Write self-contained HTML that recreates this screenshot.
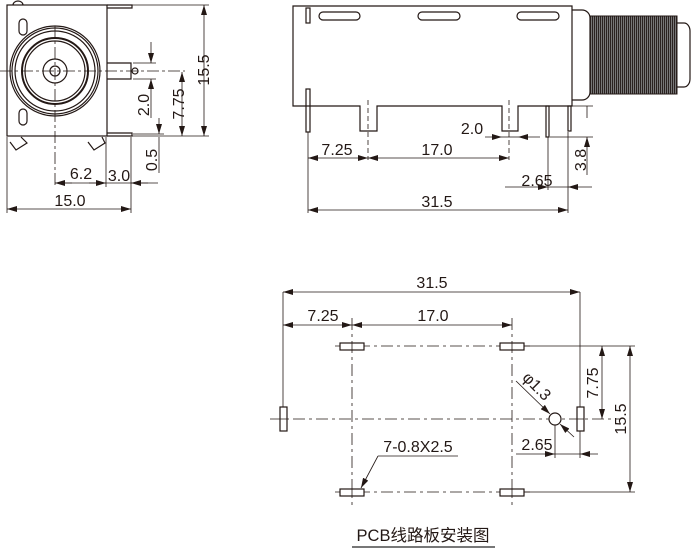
<!DOCTYPE html>
<html><head><meta charset="utf-8"><style>
html,body{margin:0;padding:0;background:#fff;}
svg{display:block;}
text{font-family:"Liberation Sans","Noto Sans CJK SC",sans-serif;font-size:16px;fill:#231815;}
</style></head><body>
<svg width="693" height="549" viewBox="0 0 693 549" xmlns="http://www.w3.org/2000/svg">
<defs>
<marker id="a" viewBox="0 0 10 6" refX="10" refY="3" markerWidth="10" markerHeight="6" orient="auto-start-reverse" markerUnits="userSpaceOnUse"><path d="M0,0L10,3L0,6z" fill="#231815"/></marker>
<pattern id="th" width="2" height="4" patternUnits="userSpaceOnUse"><rect width="2" height="4" fill="#777"/><rect width="1" height="4" fill="#2a2220"/></pattern>
</defs>
<g stroke="#231815" fill="none" stroke-width="1.2">
<!-- LEFT VIEW -->
<rect x="7" y="5" width="100" height="131" fill="#fff"/>
<path d="M13,5 a5,4 0 0 1 10,0"/>
<path d="M107,5 h25 v3 h-25 M107,133 h25 v3 h-25"/>
<path d="M107,63 h24 v16 h-24"/>
<circle cx="135" cy="71" r="3"/>
<circle cx="55" cy="71" r="45"/><circle cx="55" cy="71" r="43"/><circle cx="55" cy="71" r="40"/>
<circle cx="55" cy="71" r="33" stroke-width="2"/><circle cx="55" cy="71" r="30"/>
<circle cx="55" cy="71" r="12"/><circle cx="55" cy="71" r="5"/>
<rect x="19" y="19" width="8" height="16" rx="4"/><rect x="19" y="109" width="8" height="16" rx="4"/>
<path d="M10,142 l6,8 l11,-7 l-6,-6 M88,142 l6,8 l11,-7 l-3,-6"/>
<g stroke-width="0.8">
<path d="M0,71 H185" stroke-dasharray="12,3,3,3"/>
<path d="M55,26 V187" stroke-dasharray="12,3,3,3"/>
<path d="M132,5 H209 M132,136 H209 M133,63 H156 M133,79 H156 M133,134 H164"/>
<path d="M7,137 V213 M106,137 V187 M131,137 V213"/>
<path d="M204,5 V136" marker-start="url(#a)" marker-end="url(#a)"/>
<path d="M182,72 V136" marker-start="url(#a)" marker-end="url(#a)"/>
<path d="M151,42 V63" marker-end="url(#a)"/><path d="M151,118 V79" marker-end="url(#a)"/>
<path d="M159,118 V134" marker-end="url(#a)"/><path d="M159,173 V137"/>
<path d="M55,183 H158" /><path d="M55,183 H72" marker-start="url(#a)"/>
<path d="M89,183 H106" marker-end="url(#a)"/><path d="M131,183 H148" marker-start="url(#a)"/>
<path d="M7,209 H131" marker-start="url(#a)" marker-end="url(#a)"/>
</g>
<!-- MIDDLE VIEW -->
<path d="M293,6 H572 V106 H518 V131 H502 V106 H377 V131 H360 V106 H293 Z" fill="#fff"/>
<rect x="319" y="12" width="41" height="8" rx="4"/><rect x="418" y="12" width="42" height="8" rx="4"/><rect x="517" y="12" width="42" height="8" rx="4"/>
<rect x="306" y="8" width="4" height="15"/><rect x="306" y="89" width="4" height="43"/>
<rect x="546" y="106" width="3" height="31"/><rect x="568" y="106" width="3" height="25"/>
<path d="M572,10 h10 a8,8 0 0 1 8,8 v74 a8,8 0 0 1 -8,8 h-10"/>
<rect x="590" y="16" width="87" height="78" fill="url(#th)" stroke-width="1"/>
<path d="M677,23 h7 a6,8 0 0 1 6,8 v48 a6,8 0 0 1 -6,8 h-7"/>
<g stroke-width="0.8">
<path d="M368,100 V160 M509,100 V160" stroke-dasharray="5,3"/>
<path d="M308,132 V213 M568,132 V213 M548,137 V190 M572,106 H593 M550,137 H593"/>
<path d="M485,137 H502" marker-end="url(#a)"/><path d="M540,137 H518" marker-end="url(#a)"/><path d="M502,137 H518"/>
<path d="M308,158 H368" marker-start="url(#a)" marker-end="url(#a)"/>
<path d="M368,158 H509" marker-start="url(#a)" marker-end="url(#a)"/>
<path d="M587,175 V137" marker-end="url(#a)"/><path d="M587,106 V118"/>
<path d="M505,187 H548" marker-end="url(#a)"/><path d="M592,187 H568" marker-end="url(#a)"/><path d="M548,187 H568"/>
<path d="M308,210 H568" marker-start="url(#a)" marker-end="url(#a)"/>
</g>
<!-- BOTTOM VIEW -->
<g stroke-width="0.8">
<path d="M283,292 V408 M580,292 V413"/>
<path d="M283,292 H580" marker-start="url(#a)" marker-end="url(#a)"/>
<path d="M283,325 H352" marker-start="url(#a)" marker-end="url(#a)"/>
<path d="M352,325 H512" marker-start="url(#a)" marker-end="url(#a)"/>
<g stroke-dasharray="12,4,3,4">
<path d="M335,346 H530 M335,492 H530 M352,318 V505 M512,318 V505 M270,419 H620"/>
</g>
<path d="M524,346 H635 M524,492 H635 M555,425 V458 M580,424 V458"/>
<path d="M602,346 V419" marker-start="url(#a)" marker-end="url(#a)"/>
<path d="M630,346 V492" marker-start="url(#a)" marker-end="url(#a)"/>
<path d="M516,454 H555" marker-end="url(#a)"/><path d="M598,454 H580" marker-end="url(#a)"/><path d="M555,454 H580"/>
<path d="M516,381 L550,414" marker-end="url(#a)"/><path d="M574,437 L560,424" marker-end="url(#a)"/>
<path d="M378,456 H458"/><path d="M378,456 L361,488" marker-end="url(#a)"/>
</g>
<g fill="#fff">
<rect x="340" y="343" width="24" height="7"/><rect x="500" y="343" width="24" height="7"/>
<rect x="340" y="489" width="24" height="7"/><rect x="500" y="489" width="24" height="7"/>
<rect x="280" y="407" width="7" height="24"/><rect x="577" y="407" width="7" height="24"/>
<circle cx="555" cy="419" r="6"/>
</g>
<g stroke-width="0.8">
<path d="M352,343 V350 M512,343 V350 M352,489 V496 M512,489 V496 M280,419 H287 M577,419 H584"/>
</g>
</g>
<!-- TEXT -->
<g text-anchor="middle">
<text x="70" y="206">15.0</text>
<text x="81" y="179">6.2</text>
<text x="119" y="181">3.0</text>
<text transform="translate(209,70) rotate(-90)">15.5</text>
<text transform="translate(184,104) rotate(-90)">7.75</text>
<text transform="translate(149,105) rotate(-90)">2.0</text>
<text transform="translate(157,160) rotate(-90)">0.5</text>
<text x="337" y="155">7.25</text>
<text x="437" y="155">17.0</text>
<text x="472" y="134">2.0</text>
<text x="537" y="186">2.65</text>
<text x="437" y="207">31.5</text>
<text transform="translate(586,160) rotate(-90)">3.8</text>
<text x="432" y="288">31.5</text>
<text x="323" y="321">7.25</text>
<text x="433" y="321">17.0</text>
<text x="537" y="450">2.65</text>
<text x="418" y="452">7-0.8X2.5</text>
<text transform="translate(598,383) rotate(-90)">7.75</text>
<text transform="translate(626,419) rotate(-90)">15.5</text>
<text transform="translate(533,390) rotate(45)">φ1.3</text>
<text x="423" y="541" style="font-size:16.5px">PCB线路板安装图</text>
</g>
<rect x="352" y="546" width="143" height="2" fill="#777"/>
</svg>
</body></html>
